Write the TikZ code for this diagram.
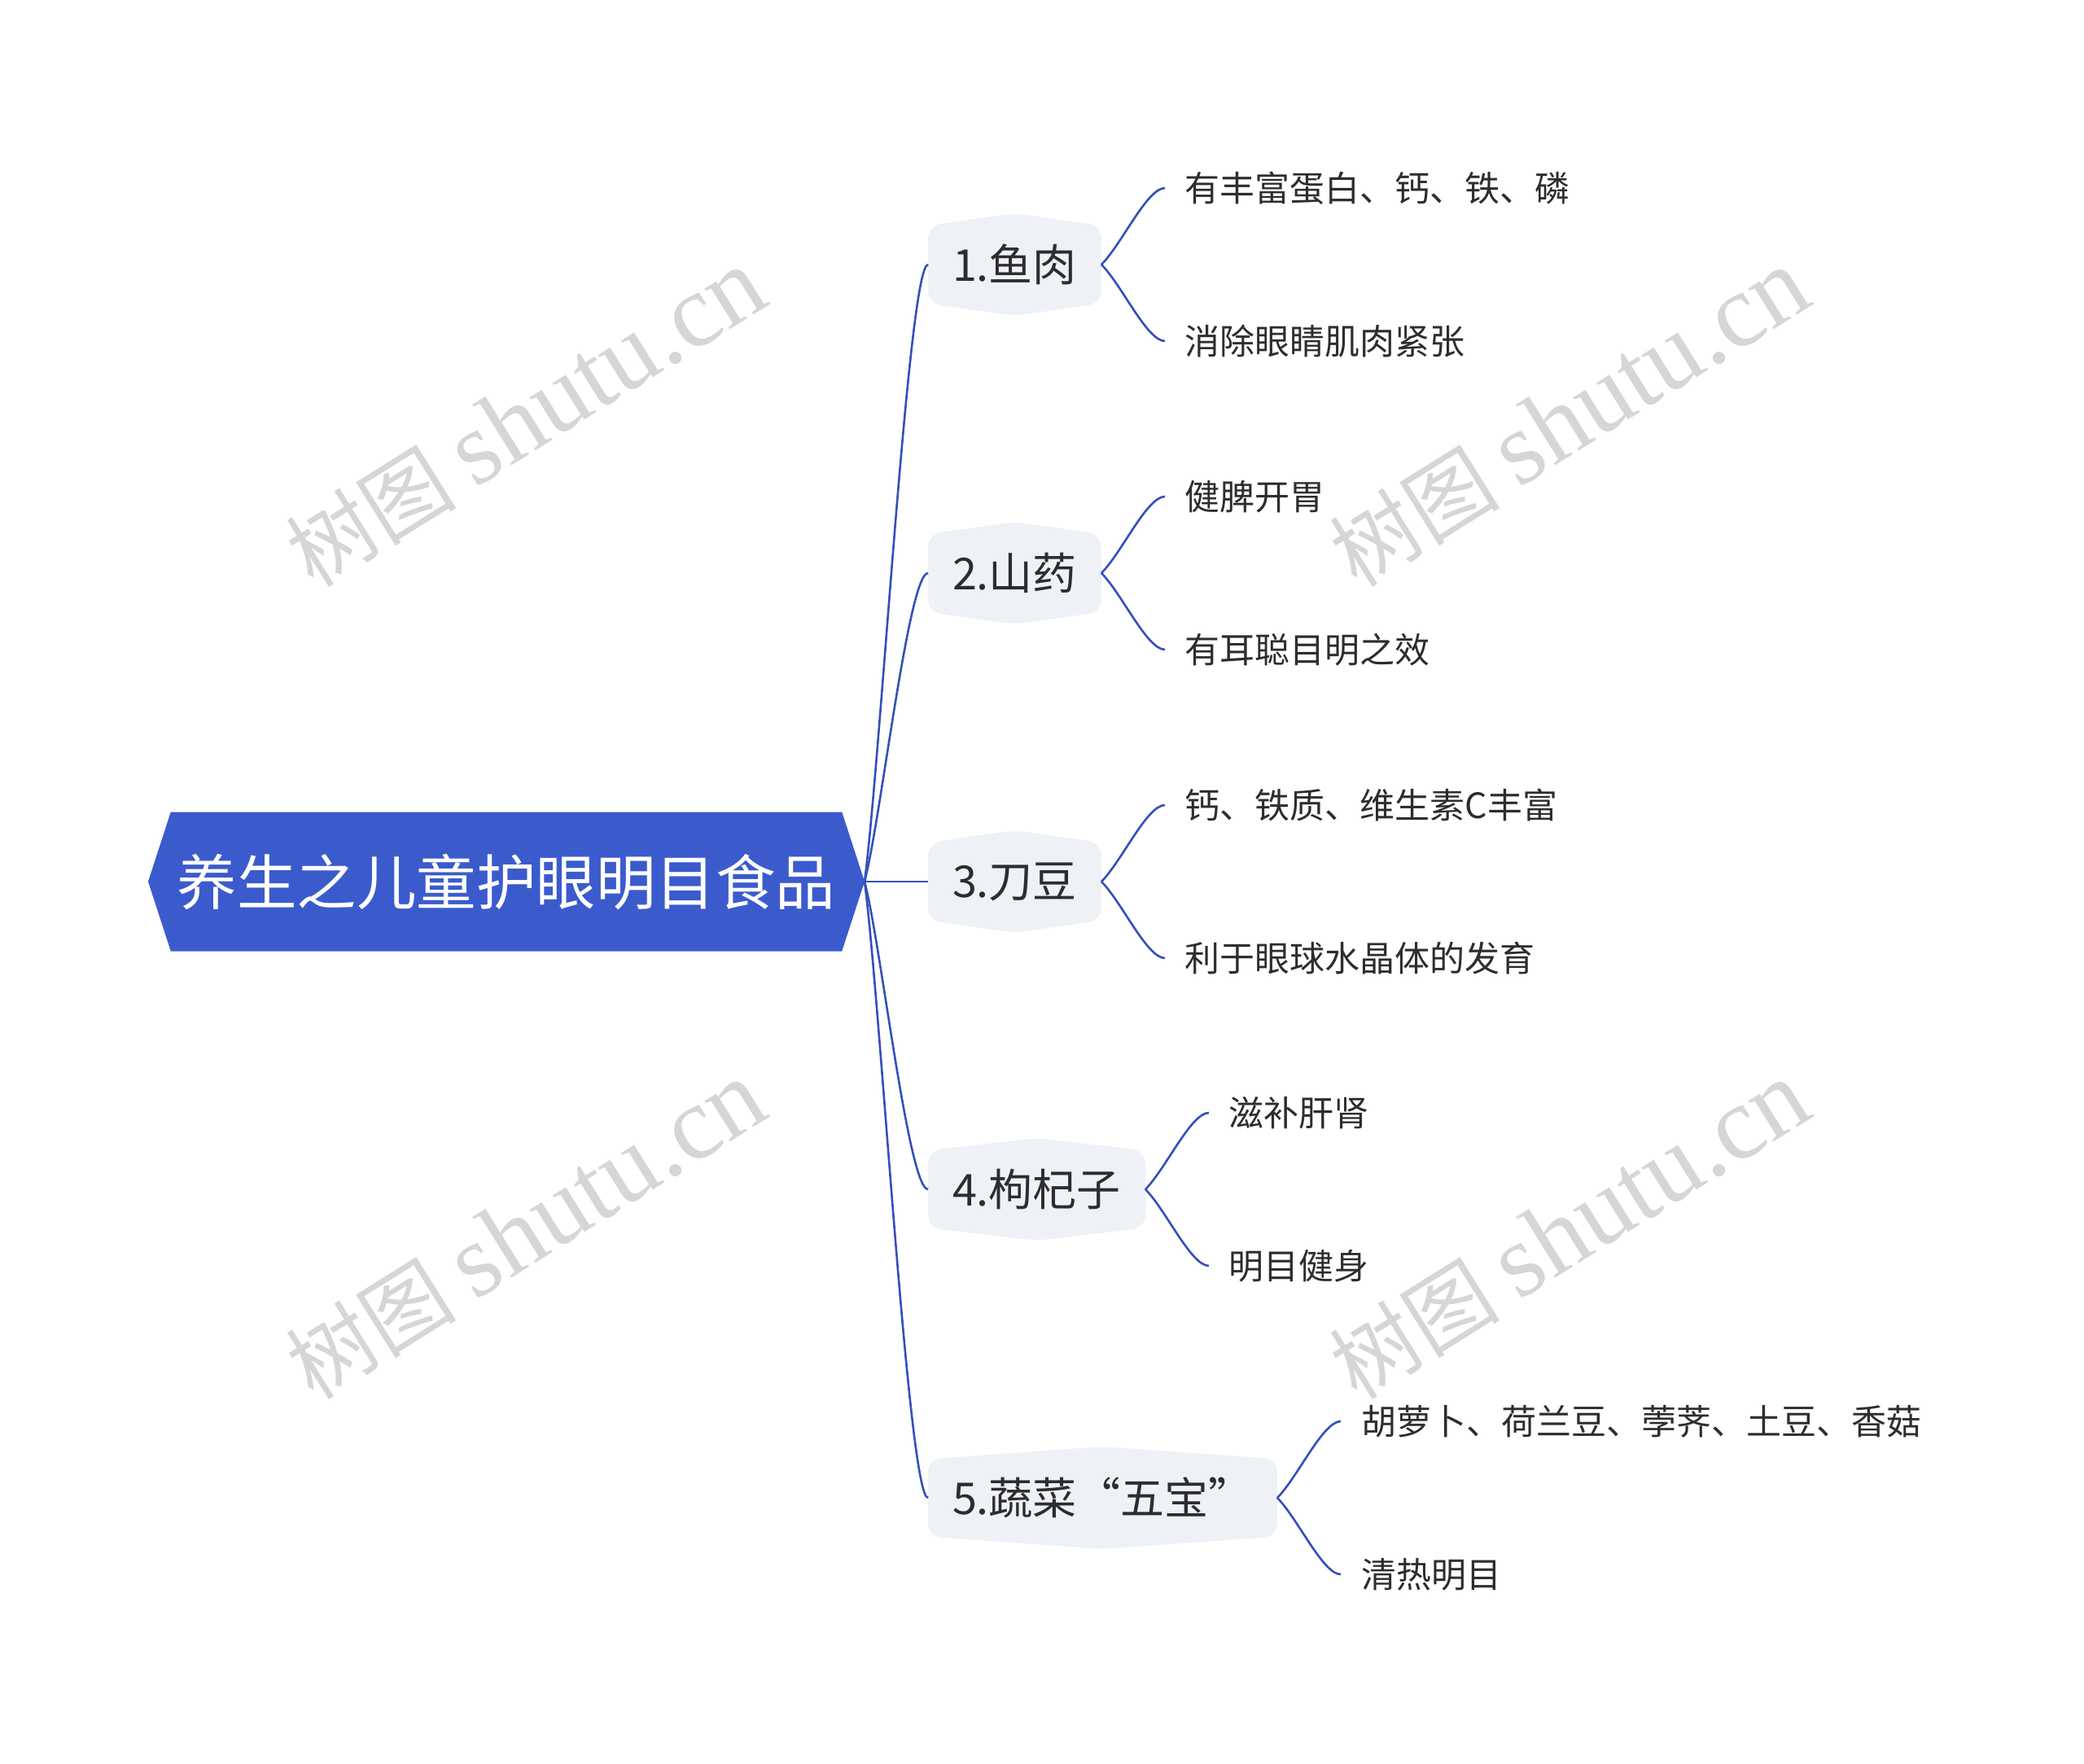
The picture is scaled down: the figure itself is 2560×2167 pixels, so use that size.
\documentclass[tikz,border=0pt]{standalone}
\usepackage{fontspec}
\setmainfont{Noto Sans CJK SC}
\newfontfamily\markfont{Liberation Serif}
\usepackage{tikz}
\usetikzlibrary{shapes.symbols,calc}

\definecolor{rootblue}{RGB}{59,91,205}
\definecolor{linkblue}{RGB}{52,80,184}
\definecolor{branchgray}{RGB}{238,241,245}
\definecolor{inkgray}{RGB}{45,45,45}
\definecolor{markgray}{RGB}{214,214,214}

\tikzset{
  rootbox/.style={signal, signal to=west and east, signal pointer angle=144,
    fill=rootblue, text=white, outer sep=0, inner xsep=8, minimum height=171,
    font=\fontsize{73.5}{88}\selectfont},
  branchbox/.style={signal, signal to=north and south, fill=branchgray,
    text=inkgray, rounded corners=16, outer sep=0, inner xsep=30,
    minimum height=126, anchor=west, font=\fontsize{54}{64}\selectfont},
  leafbox/.style={text=inkgray, inner xsep=25, outer sep=0, anchor=west,
    font=\fontsize{43}{52}\selectfont},
  link/.style={linkblue, line width=2.6},
  watermark/.style={text=markgray, rotate=32, font=\fontsize{105}{120}\selectfont}
}

\begin{document}
\begin{tikzpicture}[x=1pt,y=-1pt]
    \useasboundingbox (0,0) rectangle (2560,2167);

    % watermarks
    \foreach \wx/\wy in {646/514, 1928/514, 646/1512, 1928/1512}
        \node[watermark] at (\wx,\wy) {树图 {\markfont\fontsize{128}{140}\selectfont shutu.cn}};

    % root and branches
    \node[rootbox] (root) at (622,1083) {养生之儿童护眼明目食品};

    \node[branchbox, signal pointer angle=163.7] (b1) at (1140,325) {1.鱼肉};
    \node[branchbox, signal pointer angle=163.7] (b2) at (1140,704) {2.山药};
    \node[branchbox, signal pointer angle=163.7] (b3) at (1140,1083) {3.刀豆};
    \node[branchbox, signal pointer angle=166.8] (b4) at (1140,1461) {4.枸杞子};
    \node[branchbox, signal pointer angle=171.8] (b5) at (1140,1840)
        {5.蔬菜\makebox[1em][r]{“}五宝\makebox[1em][l]{”}};

    % leaves
    \node[leafbox] (l1a) at ($(b1.east)+(78,-94)$) {有丰富蛋白、钙、铁、磷};
    \node[leafbox] (l1b) at ($(b1.east)+(78,94)$) {消除眼睛肌肉紧张};
    \node[leafbox] (l2a) at ($(b2.east)+(78,-94)$) {健脾开胃};
    \node[leafbox] (l2b) at ($(b2.east)+(78,94)$) {有耳聪目明之效};
    \node[leafbox] (l3a) at ($(b3.east)+(78,-94)$) {钙、铁质、维生素C丰富};
    \node[leafbox] (l3b) at ($(b3.east)+(78,94)$) {利于眼球水晶体的发育};
    \node[leafbox] (l4a) at ($(b4.east)+(78,-94)$) {滋补肝肾};
    \node[leafbox] (l4b) at ($(b4.east)+(78,94)$) {明目健身};
    \node[leafbox] (l5a) at ($(b5.east)+(78,-94)$) {胡萝卜、荷兰豆、荸荠、土豆、香菇};
    \node[leafbox] (l5b) at ($(b5.east)+(78,94)$) {清热明目};

    % root links
    \foreach \i/\d in {1/-152, 2/-76, 4/76, 5/152}
        \draw[link] (root.east) .. controls +(20,\d) and +(-24,0) .. (b\i.west);
    \draw[link] (root.east) -- (b3.west);

    % leaf links
    \foreach \i in {1,...,5} {
        \draw[link] (b\i.east) .. controls +(25,-25) and +(-22,0) .. (l\i a.west);
        \draw[link] (b\i.east) .. controls +(25,25) and +(-22,0) .. (l\i b.west);
    }
\end{tikzpicture}
\end{document}
